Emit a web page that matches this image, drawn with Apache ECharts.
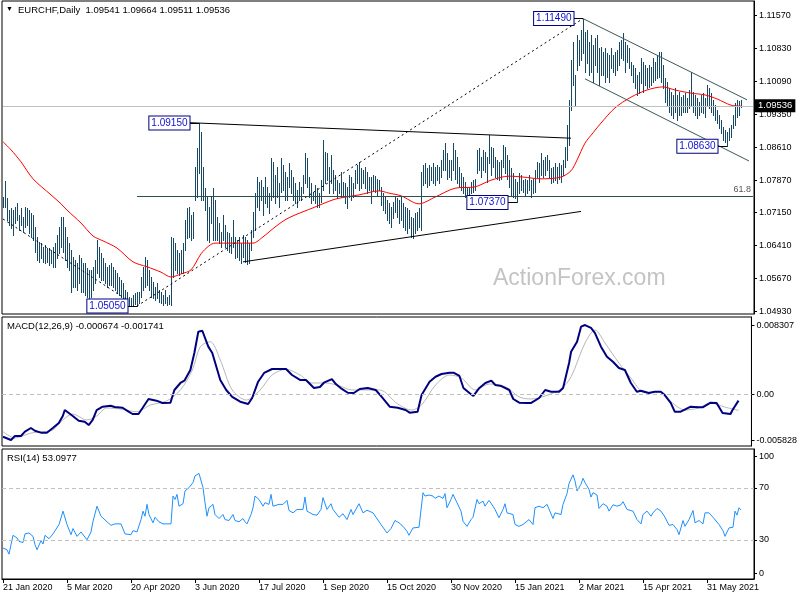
<!DOCTYPE html>
<html><head><meta charset="utf-8">
<script src="https://cdn.jsdelivr.net/npm/echarts@6/dist/echarts.min.js"></script>
<style>html,body{margin:0;padding:0;background:#fff}#c{width:800px;height:600px}</style>
</head><body><div id="c"></div>
<script>
// ---------- data ----------
const symbolTitle = 'EURCHF,Daily  1.09541 1.09664 1.09511 1.09536';
const macdTitle = 'MACD(12,26,9) -0.000674 -0.001741';
const rsiTitle = 'RSI(14) 53.0977';
const lastPrice = 1.09536;
const firstDate = [2020, 0, 21];
const barCount = 376; // 370 bars + empty right margin
const priceTicks = [1.1157, 1.1083, 1.1009, 1.0935, 1.0861, 1.0787, 1.0715, 1.0641, 1.0567, 1.0493];
const macdLabels = ['0.008307', '0.00', '-0.005828'];
const rsiLabels = ['100', '70', '30', '0'];
const tickLabels = ['21 Jan 2020','5 Mar 2020','20 Apr 2020','3 Jun 2020','17 Jul 2020','1 Sep 2020','15 Oct 2020','30 Nov 2020','15 Jan 2021','2 Mar 2021','15 Apr 2021','31 May 2021'];

const highs = [
1.0749,1.0785,1.0747,1.0720,1.0725,1.0720,1.0727,1.0736,1.0709,1.0725,
1.0704,1.0727,1.0725,1.0720,1.0713,1.0709,1.0682,1.0660,1.0649,1.0646,
1.0637,1.0642,1.0635,1.0635,1.0631,1.0637,1.0646,1.0664,1.0682,1.0704,
1.0704,1.0682,1.0660,1.0646,1.0631,1.0615,1.0608,1.0602,1.0619,1.0613,
1.0602,1.0602,1.0590,1.0586,1.0586,1.0593,1.0608,1.0653,1.0637,1.0624,
1.0613,1.0602,1.0593,1.0597,1.0602,1.0593,1.0586,1.0579,1.0570,1.0563,
1.0557,1.0541,1.0537,1.0525,1.0523,1.0530,1.0534,1.0537,1.0537,1.0570,
1.0593,1.0615,1.0608,1.0586,1.0570,1.0559,1.0548,1.0557,1.0541,1.0537,
1.0530,1.0541,1.0525,1.0530,1.0660,1.0658,1.0646,1.0631,1.0624,1.0631,
1.0646,1.0698,1.0725,1.0727,1.0709,1.0716,1.0817,1.0859,1.0915,1.0895,
1.0817,1.0770,1.0749,1.0727,1.0749,1.0770,1.0743,1.0704,1.0691,1.0671,
1.0709,1.0687,1.0671,1.0669,1.0660,1.0698,1.0660,1.0653,1.0660,1.0646,
1.0664,1.0660,1.0653,1.0646,1.0675,1.0716,1.0758,1.0794,1.0783,1.0787,
1.0772,1.0794,1.0772,1.0758,1.0837,1.0828,1.0799,1.0817,1.0781,1.0837,
1.0821,1.0805,1.0794,1.0826,1.0810,1.0794,1.0781,1.0765,1.0783,1.0772,
1.0799,1.0848,1.0837,1.0794,1.0781,1.0761,1.0776,1.0770,1.0758,1.0787,
1.0877,1.0850,1.0848,1.0817,1.0843,1.0810,1.0799,1.0787,1.0781,1.0805,
1.0783,1.0781,1.0772,1.0799,1.0794,1.0781,1.0810,1.0821,1.0828,1.0814,
1.0810,1.0817,1.0805,1.0794,1.0794,1.0799,1.0796,1.0790,1.0787,1.0772,
1.0758,1.0749,1.0743,1.0736,1.0727,1.0738,1.0749,1.0747,1.0743,1.0749,
1.0736,1.0727,1.0725,1.0720,1.0704,1.0702,1.0713,1.0716,1.0725,1.0805,
1.0821,1.0826,1.0814,1.0821,1.0817,1.0826,1.0817,1.0821,1.0817,1.0832,
1.0855,1.0870,1.0848,1.0832,1.0832,1.0870,1.0855,1.0839,1.0817,1.0803,
1.0794,1.0783,1.0772,1.0770,1.0783,1.0787,1.0790,1.0855,1.0859,1.0839,
1.0855,1.0850,1.0839,1.0888,1.0861,1.0859,1.0839,1.0832,1.0828,1.0832,
1.0866,1.0861,1.0843,1.0832,1.0814,1.0803,1.0790,1.0783,1.0803,1.0799,
1.0787,1.0790,1.0787,1.0799,1.0787,1.0790,1.0810,1.0828,1.0826,1.0848,
1.0832,1.0839,1.0843,1.0832,1.0814,1.0817,1.0826,1.0817,1.0826,1.0821,
1.0832,1.0861,1.0911,1.0967,1.1056,1.1097,1.1023,1.1112,1.1101,1.1123,
1.1149,1.1119,1.1123,1.1097,1.1112,1.1090,1.1106,1.1112,1.1083,1.1085,
1.1074,1.1083,1.1072,1.1067,1.1083,1.1067,1.1074,1.1079,1.1097,1.1101,
1.1117,1.1097,1.1090,1.1083,1.1052,1.1045,1.1038,1.1023,1.1029,1.1061,
1.1052,1.1045,1.1038,1.1045,1.1041,1.1061,1.1052,1.1067,1.1074,1.1074,
1.1045,1.1016,1.1007,1.0993,1.0985,1.0978,1.0993,1.0978,1.0985,1.0973,
1.0978,1.0982,1.0971,1.0989,1.1029,1.0985,1.0978,1.0971,1.0962,1.0978,
1.0982,1.0971,1.1000,1.0993,1.0982,1.0967,1.0955,1.0944,1.0933,1.0922,
1.0906,1.0899,1.0895,1.0904,1.0911,1.0933,1.0960,1.0967,1.0964,1.09664];

const lows = [
1.0727,1.0727,1.0698,1.0687,1.0680,1.0664,1.0691,1.0698,1.0675,1.0687,
1.0671,1.0682,1.0687,1.0669,1.0660,1.0653,1.0626,1.0608,1.0604,1.0613,
1.0604,1.0602,1.0604,1.0597,1.0602,1.0593,1.0593,1.0613,1.0624,1.0637,
1.0626,1.0608,1.0593,1.0586,1.0537,1.0548,1.0548,1.0541,1.0557,1.0537,
1.0537,1.0530,1.0525,1.0523,1.0525,1.0541,1.0557,1.0579,1.0570,1.0563,
1.0563,1.0557,1.0548,1.0552,1.0552,1.0548,1.0541,1.0534,1.0530,1.0525,
1.0519,1.0512,1.0508,1.0507,1.0506,1.0508,1.0510,1.0505,1.0512,1.0525,
1.0541,1.0548,1.0552,1.0541,1.0525,1.0523,1.0519,1.0523,1.0514,1.0512,
1.0508,1.0512,1.0507,1.0509,1.0507,1.0570,1.0586,1.0579,1.0575,1.0579,
1.0579,1.0631,1.0658,1.0660,1.0653,1.0658,1.0743,1.0749,1.0803,1.0743,
1.0743,1.0720,1.0653,1.0649,1.0691,1.0653,1.0653,1.0653,1.0646,1.0637,
1.0653,1.0637,1.0631,1.0626,1.0624,1.0637,1.0613,1.0615,1.0608,1.0602,
1.0615,1.0604,1.0599,1.0602,1.0631,1.0660,1.0675,1.0727,1.0720,1.0743,
1.0709,1.0736,1.0727,1.0713,1.0743,1.0749,1.0736,1.0749,1.0727,1.0761,
1.0765,1.0743,1.0743,1.0772,1.0758,1.0743,1.0736,1.0727,1.0743,1.0743,
1.0758,1.0781,1.0772,1.0749,1.0736,1.0743,1.0736,1.0727,1.0727,1.0738,
1.0765,1.0781,1.0787,1.0758,1.0781,1.0758,1.0765,1.0747,1.0758,1.0749,
1.0754,1.0736,1.0725,1.0749,1.0743,1.0749,1.0770,1.0781,1.0765,1.0770,
1.0781,1.0770,1.0758,1.0765,1.0736,1.0765,1.0761,1.0754,1.0765,1.0731,
1.0720,1.0713,1.0698,1.0691,1.0682,1.0702,1.0716,1.0704,1.0691,1.0698,
1.0682,1.0675,1.0669,1.0680,1.0660,1.0658,1.0669,1.0675,1.0682,1.0675,
1.0776,1.0781,1.0772,1.0776,1.0787,1.0781,1.0776,1.0787,1.0781,1.0794,
1.0810,1.0810,1.0790,1.0794,1.0787,1.0810,1.0790,1.0781,1.0772,1.0765,
1.0758,1.0749,1.0747,1.0749,1.0758,1.0761,1.0765,1.0803,1.0810,1.0794,
1.0810,1.0805,1.0783,1.0826,1.0799,1.0817,1.0794,1.0790,1.0787,1.0790,
1.0817,1.0803,1.0790,1.0772,1.0754,1.0749,1.0747,1.0737,1.0758,1.0765,
1.0761,1.0754,1.0758,1.0765,1.0749,1.0758,1.0761,1.0794,1.0783,1.0799,
1.0794,1.0799,1.0810,1.0794,1.0781,1.0783,1.0787,1.0781,1.0790,1.0783,
1.0799,1.0817,1.0832,1.0866,1.0944,1.1000,1.0953,1.1034,1.1045,1.1056,
1.1072,1.1029,1.1050,1.1023,1.1029,1.1007,1.1045,1.1029,1.1000,1.1023,
1.1023,1.1007,1.1018,1.1007,1.1038,1.1029,1.1023,1.1034,1.1045,1.1061,
1.1056,1.1029,1.1052,1.1038,1.1023,1.1007,1.0993,1.0978,1.0982,1.1005,
1.0985,1.1000,1.0993,1.0996,1.1000,1.1007,1.1011,1.1016,1.1018,1.1007,
1.0993,1.0962,1.0955,1.0940,1.0933,1.0927,1.0940,1.0922,1.0933,1.0933,
1.0940,1.0940,1.0940,1.0949,1.0955,1.0940,1.0933,1.0927,1.0933,1.0940,
1.0938,1.0929,1.0955,1.0949,1.0940,1.0933,1.0922,1.0915,1.0904,1.0893,
1.0877,1.0873,1.0863,1.0877,1.0884,1.0904,1.0911,1.0929,1.0933,1.09511];

// moving average (red), [bar index, value]
const maPts = [[0,1.0873],[4,1.0855],[9,1.0828],[15,1.0790],[24,1.0754],[29,1.0734],[32,1.0720],[39,1.0691],[45,1.0662],[50,1.0651],[57,1.0635],[65,1.0604],[72,1.0593],[79,1.0581],[84,1.0570],[89,1.0577],[94,1.0586],[99,1.0622],[103,1.0640],[106,1.0646],[113,1.0646],[122,1.0646],[125,1.0646],[130,1.0660],[136,1.0682],[141,1.0698],[146,1.0709],[155,1.0725],[165,1.0743],[171,1.0749],[178,1.0754],[188,1.0763],[193,1.0758],[199,1.0752],[208,1.0734],[216,1.0749],[226,1.0769],[236,1.0772],[244,1.0787],[253,1.0796],[260,1.0794],[269,1.0790],[279,1.0794],[284,1.0808],[287,1.0832],[291,1.0870],[295,1.0893],[299,1.0915],[306,1.0949],[314,1.0973],[322,1.0989],[330,1.0996],[336,1.0989],[344,1.0982],[351,1.0978],[357,1.0969],[364,1.0955],[369,1.0953]];

const macdPts = [[0,-0.00460],[4,-0.00496],[6,-0.00452],[9,-0.00452],[11,-0.00405],[14,-0.00365],[16,-0.00395],[19,-0.00416],[22,-0.00416],[25,-0.00365],[28,-0.00311],[30,-0.00235],[31,-0.00170],[33,-0.00202],[35,-0.00235],[38,-0.00286],[41,-0.00297],[43,-0.00333],[45,-0.00278],[47,-0.00170],[50,-0.00134],[54,-0.00123],[56,-0.00137],[60,-0.00145],[63,-0.00188],[65,-0.00213],[68,-0.00213],[70,-0.00148],[73,-0.00050],[77,-0.00068],[80,-0.00093],[84,-0.00090],[86,0.00048],[89,0.00124],[91,0.00149],[94,0.00265],[96,0.00450],[98,0.00682],[100,0.00692],[103,0.00519],[105,0.00450],[109,0.00157],[112,0.00048],[115,-0.00028],[119,-0.00079],[123,-0.00104],[125,-0.00039],[128,0.00138],[131,0.00233],[135,0.00276],[139,0.00276],[142,0.00276],[145,0.00211],[149,0.00157],[152,0.00157],[156,0.00070],[159,0.00080],[161,0.00127],[165,0.00167],[167,0.00113],[170,0.00059],[173,0.00018],[176,0.00015],[179,0.00059],[183,0.00070],[187,0.00048],[190,-0.00028],[194,-0.00134],[198,-0.00145],[202,-0.00170],[204,-0.00199],[208,-0.00188],[210,-0.00007],[214,0.00138],[217,0.00192],[220,0.00222],[224,0.00236],[226,0.00236],[229,0.00200],[231,0.00070],[234,0.00015],[236,-0.00017],[239,0.00070],[242,0.00124],[245,0.00149],[247,0.00102],[250,0.00091],[254,0.00048],[256,-0.00050],[259,-0.00090],[263,-0.00093],[265,-0.00093],[269,-0.00039],[272,0.00048],[275,0.00029],[279,0.00029],[281,0.00070],[284,0.00341],[285,0.00464],[288,0.00573],[290,0.00736],[292,0.00754],[295,0.00722],[297,0.00667],[300,0.00519],[303,0.00410],[306,0.00355],[309,0.00287],[312,0.00265],[315,0.00124],[318,0.00029],[320,0.00040],[324,0.00015],[327,0.00029],[330,0.00029],[332,-0.00007],[335,-0.00093],[337,-0.00188],[340,-0.00188],[345,-0.00134],[349,-0.00140],[351,-0.00140],[355,-0.00090],[358,-0.00093],[361,-0.00202],[365,-0.00213],[366,-0.00170],[369,-0.000674]];

const signalPts = [[0,-0.00405],[6,-0.00474],[14,-0.00420],[20,-0.00405],[25,-0.00387],[30,-0.00278],[35,-0.00213],[42,-0.00278],[47,-0.00235],[52,-0.00148],[59,-0.00159],[67,-0.00188],[74,-0.00115],[82,-0.00072],[89,0.00048],[95,0.00265],[99,0.00519],[104,0.00573],[109,0.00374],[115,0.00048],[122,-0.00061],[129,0.00048],[135,0.00211],[142,0.00273],[149,0.00211],[155,0.00124],[162,0.00124],[169,0.00091],[175,0.00048],[182,0.00048],[189,0.00048],[198,-0.00104],[205,-0.00170],[210,-0.00115],[217,0.00102],[224,0.00211],[230,0.00178],[237,0.00048],[244,0.00113],[252,0.00084],[259,-0.00028],[265,-0.00050],[272,-0.00017],[280,0.00059],[285,0.00192],[292,0.00559],[297,0.00700],[302,0.00559],[309,0.00341],[315,0.00178],[322,0.00018],[329,0.00029],[335,-0.00079],[342,-0.00170],[349,-0.00148],[355,-0.00093],[362,-0.00137],[369,-0.001741]];

const rsiPts = [[0,23.8],[2,22.5],[3,19.1],[4,17.8],[5,33.6],[7,31.6],[8,28.9],[10,28.1],[11,34.7],[13,35.4],[15,32.8],[16,26.4],[17,22.5],[19,29.5],[20,26.9],[21,33.6],[23,31.0],[25,34.7],[26,36.2],[28,41.9],[30,52.2],[32,41.9],[34,34.1],[35,38.8],[37,32.8],[39,36.2],[40,36.2],[42,30.2],[44,36.2],[45,44.4],[47,56.0],[49,48.3],[50,48.3],[52,44.0],[54,41.3],[56,42.4],[59,42.4],[61,34.7],[64,34.1],[65,37.2],[67,36.2],[69,45.7],[70,52.2],[71,48.3],[72,57.4],[73,49.6],[75,43.2],[76,47.5],[78,44.0],[80,42.4],[84,42.4],[85,63.8],[86,61.2],[87,65.1],[88,56.0],[90,57.9],[91,67.7],[93,70.3],[95,74.2],[96,79.3],[98,81.2],[100,70.3],[101,58.7],[102,48.3],[103,54.8],[105,57.4],[106,49.6],[108,46.5],[110,49.6],[111,45.7],[113,45.0],[115,49.6],[116,45.0],[118,44.0],[120,46.5],[121,44.0],[122,42.4],[124,49.6],[125,54.8],[126,63.8],[128,61.2],[130,56.0],[131,58.7],[133,57.4],[134,65.1],[135,56.0],[138,57.4],[140,57.4],[142,60.5],[143,52.7],[145,50.9],[147,53.5],[150,53.5],[151,63.0],[152,52.2],[155,49.6],[157,49.1],[159,53.5],[160,62.6],[162,53.5],[164,57.9],[165,53.5],[168,47.5],[170,50.2],[172,45.7],[174,53.5],[175,49.6],[178,57.9],[180,50.9],[182,52.9],[185,50.9],[186,52.2],[189,41.9],[190,43.2],[192,35.4],[194,38.8],[196,45.0],[198,43.2],[200,40.5],[202,36.7],[203,33.6],[205,39.3],[206,39.3],[208,39.8],[210,66.4],[211,63.8],[213,64.6],[215,63.8],[216,62.0],[218,63.8],[220,62.0],[221,65.7],[222,54.8],[224,61.2],[225,65.1],[227,58.7],[229,52.2],[230,44.4],[232,40.5],[234,45.7],[235,47.5],[237,61.2],[238,57.9],[240,59.9],[241,56.0],[243,60.5],[245,56.0],[246,53.5],[248,47.1],[250,53.5],[251,57.9],[252,50.9],[255,49.6],[256,41.9],[258,40.5],[260,41.9],[263,45.7],[265,41.9],[266,54.8],[268,56.0],[270,54.8],[272,57.4],[275,46.5],[276,50.9],[279,49.6],[280,57.4],[282,65.7],[283,73.4],[285,80.1],[286,75.4],[287,67.7],[289,72.9],[290,77.5],[291,74.2],[293,69.0],[294,63.0],[295,66.4],[297,64.6],[298,54.3],[300,57.9],[302,56.0],[303,52.2],[305,57.1],[307,56.0],[309,57.1],[310,59.5],[312,53.5],[315,52.2],[317,45.7],[319,42.4],[320,49.6],[322,52.2],[324,48.3],[325,50.9],[327,54.3],[329,52.2],[331,47.5],[333,41.3],[335,41.9],[337,38.0],[338,34.1],[340,45.0],[341,40.5],[343,45.7],[345,52.7],[346,43.2],[348,45.0],[350,42.4],[351,50.9],[353,50.9],[355,47.5],[356,46.5],[358,41.9],[360,37.2],[361,32.8],[363,39.3],[365,39.8],[366,52.2],[367,49.1],[368,54.8],[369,53.1]];

// price annotations: [bar index, price, text]
const priceNotes = [[98,1.0915,'1.09150'],[290,1.1149,'1.11490'],[67,1.0505,'1.05050'],[257,1.0737,'1.07370'],[362,1.0863,'1.08630']];
// trend lines: [idx1, price1, idx2, price2, style]
const trendDefs = [
  [92,1.0916,284,1.0881,'solid'],
  [120,1.0604,289,1.0717,'solid'],
  [0,1.0700,62,1.0519,'dot'],
  [67,1.0505,290,1.1149,'dot'],
  [290,1.1149,372,1.0967,'chan'],
  [291,1.1014,373,1.0830,'chan']
];
const fiboLevel = [67, 1.0751, '61.8'];

// ---------- build ----------
const MON = ['Jan','Feb','Mar','Apr','May','Jun','Jul','Aug','Sep','Oct','Nov','Dec'];
const categories = [];
let d = new Date(Date.UTC(firstDate[0], firstDate[1], firstDate[2]));
while (categories.length < barCount) {
  const wd = d.getUTCDay(), md = (d.getUTCMonth()+1)*100 + d.getUTCDate();
  if (wd !== 0 && wd !== 6 && md !== 1225 && md !== 101)
    categories.push(d.getUTCDate() + ' ' + MON[d.getUTCMonth()] + ' ' + d.getUTCFullYear());
  d = new Date(d.getTime() + 86400000);
}

const FONT = '"Liberation Sans", Arial, sans-serif';
const BAR = '#174865';
const styles = {
  solid: {color:'#000', width:1, type:'solid'},
  dot: {color:'#000', width:1, type:[2,3]},
  chan: {color:'#3b5757', width:1, type:'solid'}
};
const lvlStyle = {color:'#2f4f4f', width:1, type:'solid'};
const priceLineStyle = {color:'#c0c0c0', width:1, type:'solid'};

const markLines = [];
// current price line (drawn first, under the rest)
markLines.push([
  {coord:[0, lastPrice], lineStyle:priceLineStyle},
  {coord:[barCount-1, lastPrice], lineStyle:priceLineStyle,
   label:{show:true, position:'end', distance:2, formatter:lastPrice.toFixed(5), color:'#fff',
          backgroundColor:'#000', padding:[2,3,1,3], fontSize:9.5, fontFamily:FONT}}
]);
trendDefs.forEach(t => markLines.push([
  {coord:[t[0], t[1]], lineStyle:styles[t[4]]},
  {coord:[t[2], t[3]], lineStyle:styles[t[4]]}
]));
priceNotes.forEach(n => markLines.push([
  {coord:[n[0]-5, n[1]], lineStyle:styles.solid},
  {coord:[n[0], n[1]], lineStyle:styles.solid}
]));
markLines.push([
  {coord:[fiboLevel[0], fiboLevel[1]], lineStyle:lvlStyle},
  {coord:[barCount-1, fiboLevel[1]], lineStyle:lvlStyle,
   label:{show:true, position:'insideEndTop', formatter:fiboLevel[2], color:'#555', fontSize:9, fontFamily:FONT, distance:2}}
]);

const barData = highs.map((h,i) => [i, h, lows[i]]);

const macdMax = 0.008413, macdMin = -0.005609;
const axisFont = {fontSize:9, color:'#000', fontFamily:FONT};

const chart = echarts.init(document.getElementById('c'), null, {renderer:'canvas'});
const gridBase = {left:2, right:46, show:true, borderColor:'#000', borderWidth:1, backgroundColor:'#fff'};
const xBase = (k, show) => ({
  type:'category', gridIndex:k, data:categories, boundaryGap:true,
  axisLine:{show:show, lineStyle:{color:'#000'}},
  axisTick:{show:show, interval:31, alignWithLabel:true, length:4, lineStyle:{color:'#000'}},
  axisLabel:Object.assign({show:show, interval:31, align:'left', margin:4}, axisFont),
  splitLine:{show:false}
});

chart.setOption({
  animation:false,
  backgroundColor:'#fff',
  textStyle:{fontFamily:FONT},
  title:[
    {text:'▼', left:6, top:6, padding:0, textStyle:{fontSize:7, color:'#000', fontWeight:'normal'}},
    {text:symbolTitle, left:18, top:5, padding:0, textStyle:{fontSize:9.5, color:'#000', fontWeight:'normal', fontFamily:FONT}},
    {text:macdTitle, left:7, top:321, padding:0, textStyle:{fontSize:9.5, color:'#000', fontWeight:'normal', fontFamily:FONT}},
    {text:rsiTitle, left:7, top:453, padding:0, textStyle:{fontSize:9.5, color:'#000', fontWeight:'normal', fontFamily:FONT}}
  ],
  graphic:[{type:'text', left:493, top:267, z:1, silent:true,
    style:{text:'ActionForex.com', fill:'#c4c4c4', font:'23px "Liberation Sans", Arial, sans-serif'}}],
  grid:[
    Object.assign({top:1, height:313}, gridBase),
    Object.assign({top:317, height:129}, gridBase),
    Object.assign({top:449, height:130}, gridBase)
  ],
  xAxis:[xBase(0,false), xBase(1,false), xBase(2,true)],
  yAxis:[
    {type:'value', gridIndex:0, position:'right', min:1.04872, max:1.11884, scale:true,
     axisLine:{show:true, lineStyle:{color:'#000'}},
     axisTick:{show:true, length:3, customValues:priceTicks, lineStyle:{color:'#000'}},
     axisLabel:Object.assign({customValues:priceTicks, margin:5, formatter:v => v.toFixed(5)}, axisFont),
     splitLine:{show:false}},
    {type:'value', gridIndex:1, position:'right', min:macdMin, max:macdMax,
     axisLine:{show:true, lineStyle:{color:'#000'}},
     axisTick:{show:true, length:3, customValues:[0.00754, 0, -0.00496], lineStyle:{color:'#000'}},
     axisLabel:Object.assign({customValues:[0.00754, 0, -0.00496], margin:5,
       formatter:v => v > 0.001 ? macdLabels[0] : (v < -0.001 ? macdLabels[2] : macdLabels[1])}, axisFont),
     splitLine:{show:false}},
    {type:'value', gridIndex:2, position:'right', min:0, max:100,
     axisLine:{show:true, lineStyle:{color:'#000'}},
     axisTick:{show:true, length:3, customValues:[94.5, 70, 30, 4.6], lineStyle:{color:'#000'}},
     axisLabel:Object.assign({customValues:[94.5, 70, 30, 4.6], margin:5,
       formatter:v => v > 90 ? rsiLabels[0] : v > 50 ? rsiLabels[1] : v > 10 ? rsiLabels[2] : rsiLabels[3]}, axisFont),
     splitLine:{show:false}}
  ],
  series:[
    {type:'custom', name:'bars', xAxisIndex:0, yAxisIndex:0, data:barData, z:3,
     encode:{x:0, y:[1,2]},
     renderItem:(params, api) => {
       const a = api.coord([api.value(0), api.value(1)]);
       const b = api.coord([api.value(0), api.value(2)]);
       const x = Math.round(a[0]) + 0.5;
       return {type:'line', shape:{x1:x, y1:Math.round(a[1]), x2:x, y2:Math.round(b[1]) + 1},
               style:{stroke:BAR, lineWidth:1}};
     }},
    {type:'line', name:'MA', xAxisIndex:0, yAxisIndex:0, data:maPts, smooth:0.3, symbol:'none', z:4,
     lineStyle:{color:'#ff0000', width:1},
     markLine:{silent:true, symbol:['none','none'], animation:false, label:{show:false}, data:markLines},
     markPoint:{silent:true, symbol:'rect', symbolSize:1, itemStyle:{color:'rgba(0,0,0,0)'}, animation:false,
       label:{show:true, position:'left', distance:9, formatter:p => p.name, color:'#1010d0',
              fontSize:10, fontFamily:FONT, backgroundColor:'#fff', borderColor:'#000080', borderWidth:1,
              padding:[2,2,1,2]},
       data:priceNotes.map(n => ({name:n[2], coord:[n[0], n[1]]}))}},
    {type:'line', name:'MACD', xAxisIndex:1, yAxisIndex:1, data:macdPts, symbol:'none', z:4,
     lineStyle:{color:'#000080', width:2},
     markLine:{silent:true, symbol:['none','none'], animation:false, label:{show:false},
       lineStyle:{color:'#c0c0c0', width:1, type:[4,3]}, data:[{yAxis:0}]}},
    {type:'line', name:'Signal', xAxisIndex:1, yAxisIndex:1, data:signalPts, smooth:0.3, symbol:'none', z:3,
     lineStyle:{color:'#b8b8b8', width:1}},
    {type:'line', name:'RSI', xAxisIndex:2, yAxisIndex:2, data:rsiPts, symbol:'none', z:4,
     lineStyle:{color:'#1e90ff', width:1},
     markLine:{silent:true, symbol:['none','none'], animation:false, label:{show:false},
       lineStyle:{color:'#c0c0c0', width:1, type:[4,3]}, data:[{yAxis:70},{yAxis:30}]}}
  ]
});
</script>
</body></html>
